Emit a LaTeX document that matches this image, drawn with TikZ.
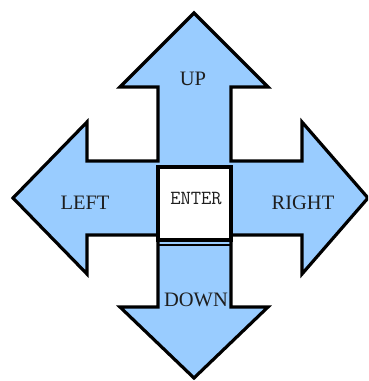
\documentclass[tikz,border=0pt]{standalone}
\usepackage{fontspec}
\setmainfont{Liberation Serif}
\definecolor{arrowblue}{RGB}{153,204,255}
\definecolor{txt}{RGB}{30,30,30}
\begin{document}
\begin{tikzpicture}[x=1pt,y=-1pt,
  outline/.style={draw=black,line width=3.2pt,line join=miter},
  lbl/.style={inner sep=0pt,anchor=base,text=txt,font=\fontsize{20.5}{24}\selectfont},
  keylbl/.style={inner sep=0pt,anchor=base,text=txt,font=\ttfamily\fontsize{20}{22}\selectfont}]
\useasboundingbox (0,0) rectangle (368,381);
\begin{scope}
\clip (0,0) rectangle (368,381);
\draw[outline,fill=arrowblue]
  (194,13) -- (268,87) -- (231,87) -- (231,161) -- (302,161) -- (302,122)
  -- (368,198) -- (302,274) -- (302,235) -- (231,235) -- (231,307)
  -- (268,307) -- (194,378) -- (120,307) -- (158,307) -- (158,235)
  -- (87,235) -- (87,274) -- (13,198) -- (87,122) -- (87,161)
  -- (158,161) -- (158,87) -- (120,87) -- cycle;
\end{scope}
\draw[outline,fill=white] (158,167) rectangle (231,240);
\draw[draw=black,line width=2pt] (158,244.5) -- (231,244.5);
\node[lbl] (up) at (193,85) {UP};
\node[lbl] (left) at (85,209) {LEFT};
\node[lbl] (right) at (303,209) {RIGHT};
\node[lbl] (down) at (196,306) {DOWN};
\node[keylbl] (enter) at (196,204) {ENTER};
\end{tikzpicture}
\end{document}
